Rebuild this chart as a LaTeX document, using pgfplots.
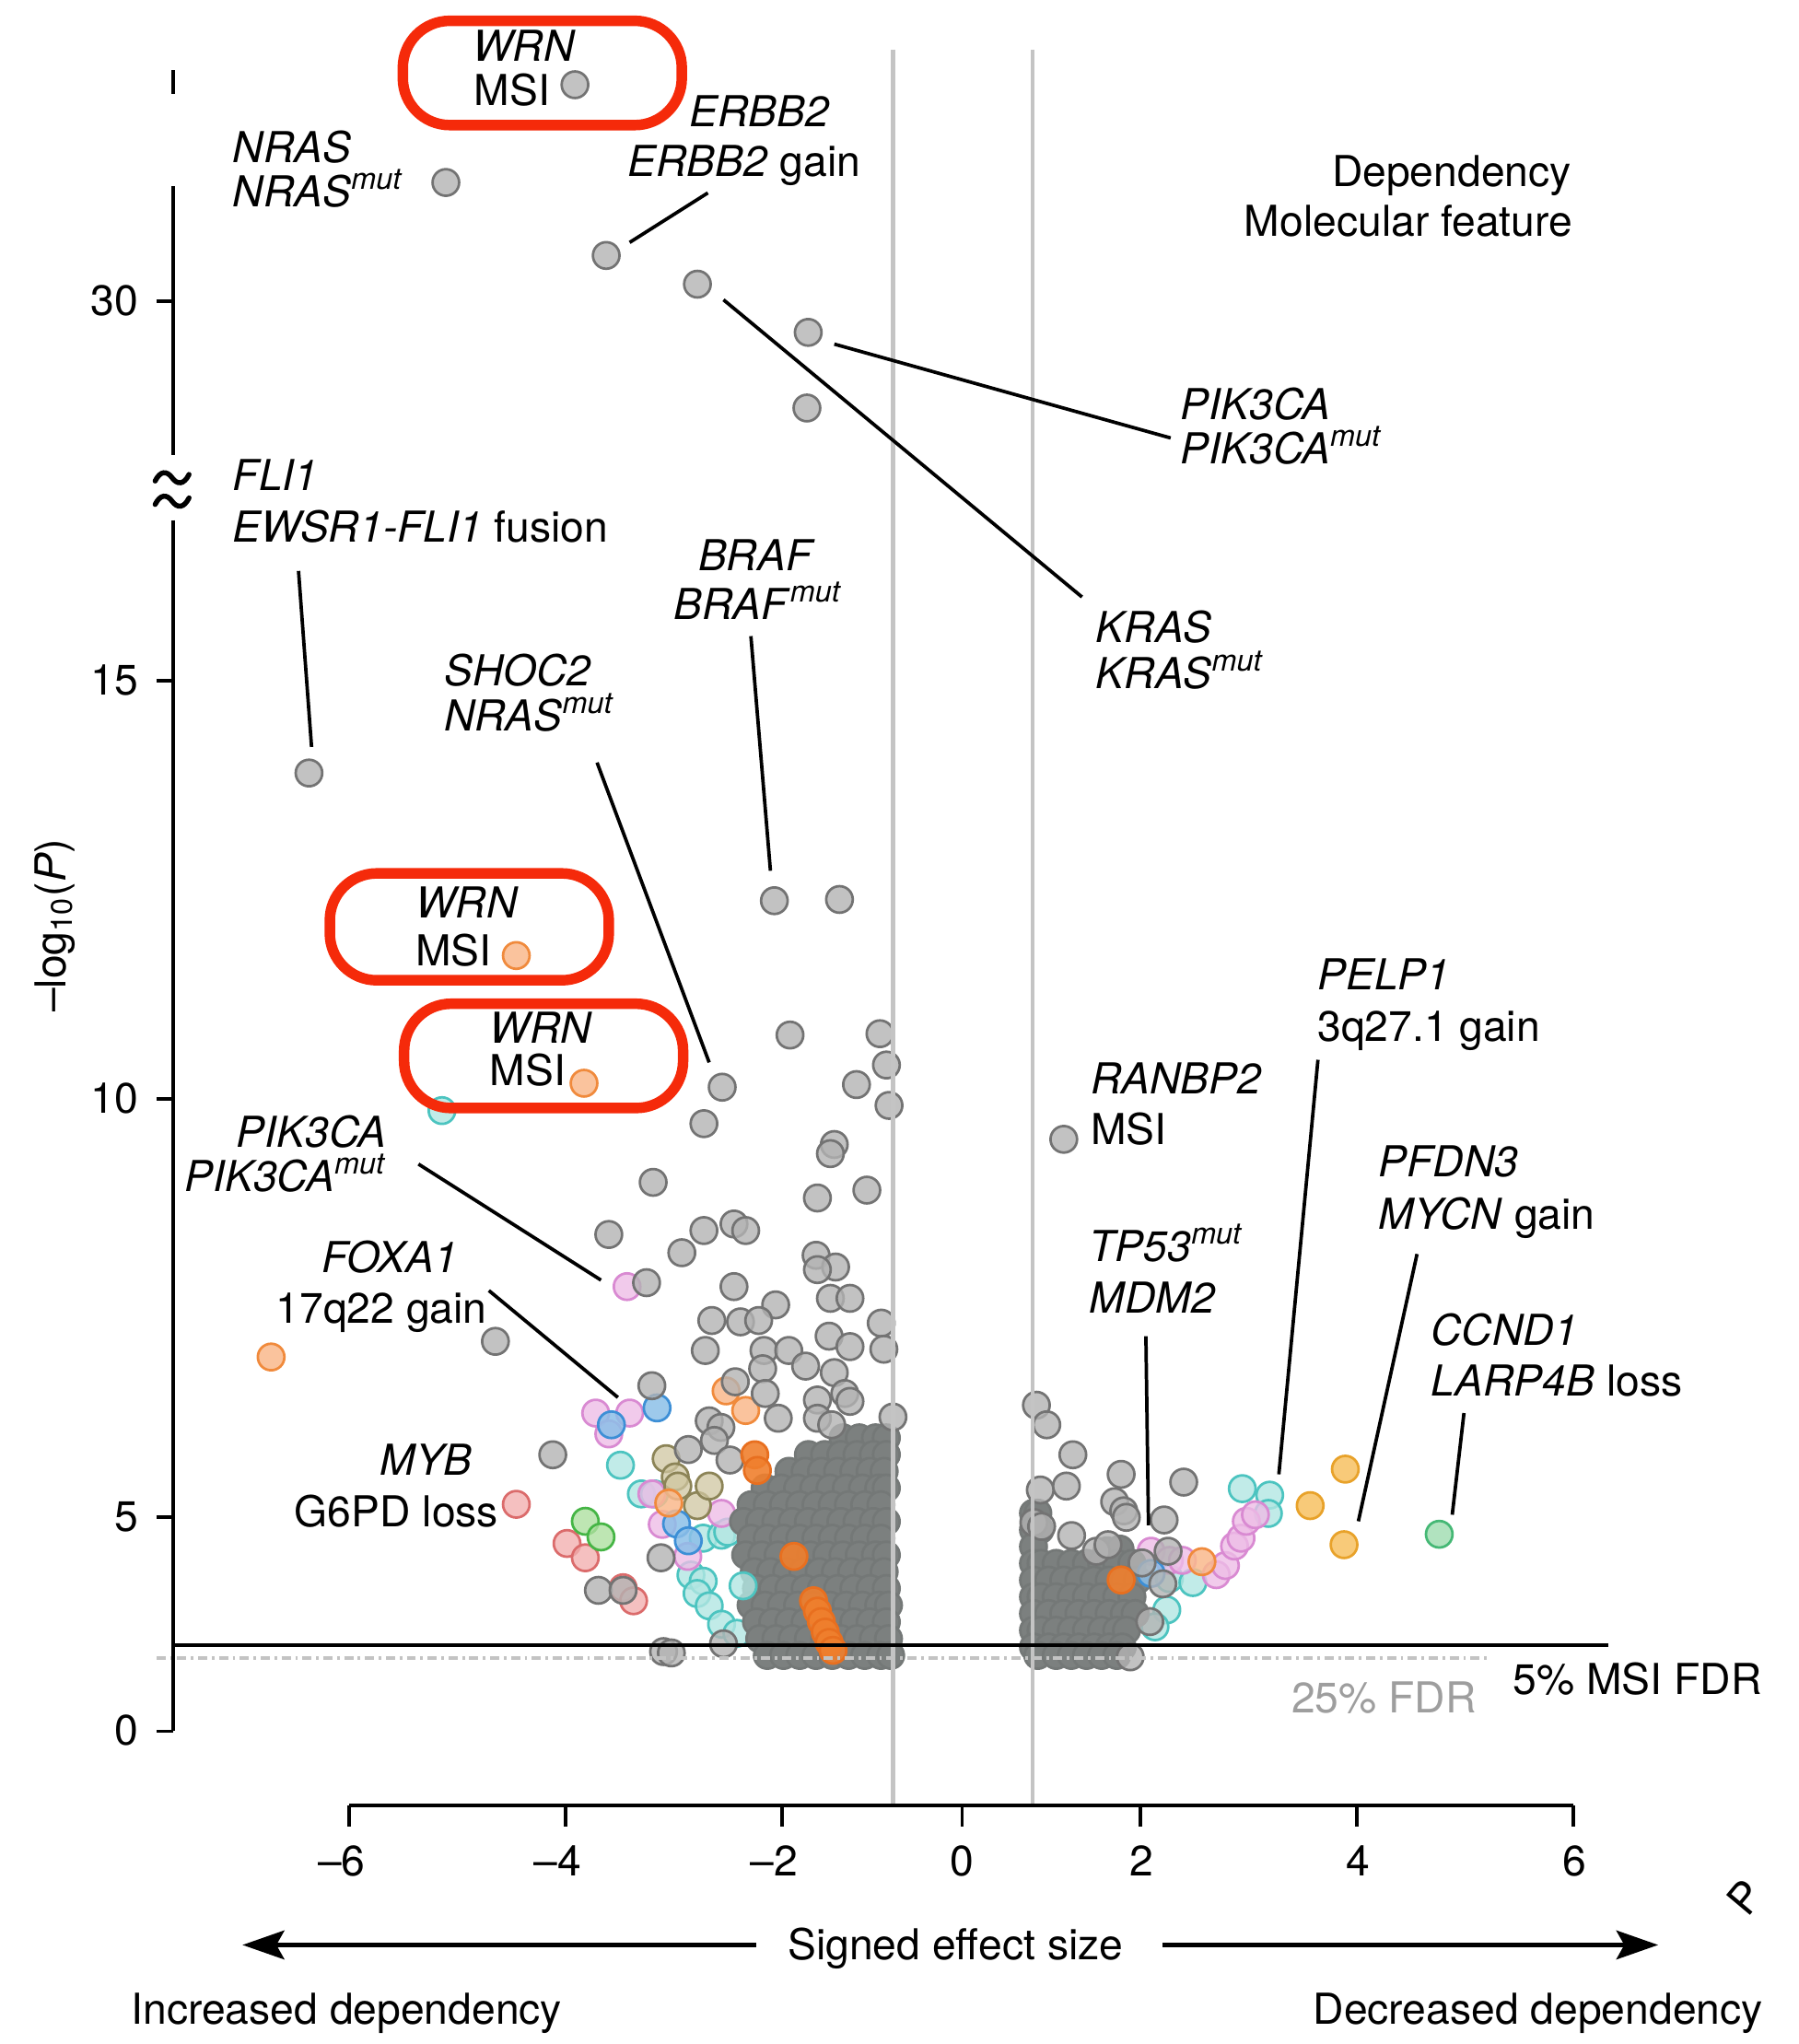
\documentclass[border=0pt]{standalone}
\usepackage{pgfplots}
\pgfplotsset{compat=1.18}
\usepackage{fontspec}
\setmainfont{TeX Gyre Heros}
\usetikzlibrary{arrows.meta}
\definecolor{gF}{HTML}{B3B3B3}\definecolor{gE}{HTML}{737373}
\definecolor{dF}{HTML}{7C807F}\definecolor{dE}{HTML}{747877}
\definecolor{oF}{HTML}{F9B98C}\definecolor{oE}{HTML}{F08A3C}
\definecolor{soF}{HTML}{F07F2D}\definecolor{soE}{HTML}{E86F1F}
\definecolor{pF}{HTML}{EDBDE6}\definecolor{pE}{HTML}{D98AD2}
\definecolor{bF}{HTML}{8CBFE8}\definecolor{bE}{HTML}{3D8FD6}
\definecolor{tF}{HTML}{B2E6E2}\definecolor{tE}{HTML}{4CC4C0}
\definecolor{olF}{HTML}{CFC6A0}\definecolor{olE}{HTML}{8C8457}
\definecolor{sF}{HTML}{F2B0B0}\definecolor{sE}{HTML}{DB6B6B}
\definecolor{grF}{HTML}{AEE0A0}\definecolor{grE}{HTML}{45B545}
\definecolor{yF}{HTML}{F7C46A}\definecolor{yE}{HTML}{E8A22A}
\definecolor{cF}{HTML}{A8E0B8}\definecolor{cE}{HTML}{45B875}
\definecolor{boxred}{HTML}{F52A0A}
\definecolor{vline}{HTML}{C4C4C4}
\definecolor{fdr}{HTML}{C3C3C3}
\pgfplotsset{
  pts/.style n args={3}{only marks, mark=*, mark size=2.9pt,
    mark options={draw=#1, fill=#2, line width=0.55pt, fill opacity=#3}},
}
\begin{document}
\begin{tikzpicture}
\useasboundingbox (0,0) rectangle (13.8cm,15.68cm);
\begin{axis}[at={(0,0)}, anchor=south west, scale only axis,
  width=13.8cm, height=15.68cm,
  xmin=-8.8916, xmax=7.7349, ymin=-1.2928, ymax=23.1308,
  hide axis, clip=false]
% colored (light) drawn under the cores
\addplot[pts={tE}{tF}{0.8}] coordinates {
(-4.807,9.860)(-3.157,5.623)(-2.964,5.280)(-2.843,5.280)
(-2.393,4.751)(-2.223,4.787)(-2.166,4.824)(-2.506,4.310)(-2.393,4.237)
(-2.449,4.090)(-2.337,3.943)(-2.223,3.723)(-2.081,3.614)
(2.590,5.343)(2.843,5.265)(2.831,5.047)(1.916,4.268)(2.133,4.221)(1.892,3.894)(1.783,3.692)
};
\addplot[pts={pE}{pF}{0.8}] coordinates {
(-3.096,7.757)(-3.386,6.246)(-3.072,6.246)(-3.265,5.997)(-2.867,5.280)
(-2.771,4.916)(-2.535,4.533)(-2.223,5.047)
(1.747,4.595)(1.916,4.486)(2.036,4.486)(2.349,4.315)(2.434,4.424)
(2.518,4.657)(2.578,4.751)(2.627,4.953)(2.711,5.031)
};
\addplot[pts={olE}{olF}{0.75}] coordinates {
(-2.735,5.701)(-2.651,5.483)(-2.627,5.374)(-2.446,5.140)(-2.337,5.374)
};
% dense cores
\addplot[pts={dE}{dF}{1}] coordinates {
(-1.10,5.95)(-0.95,5.95)(-0.80,5.95)(-0.70,5.95)
(-1.42,5.75)(-1.27,5.75)(-1.12,5.75)(-0.97,5.75)(-0.82,5.75)(-0.70,5.75)
(-1.60,5.55)(-1.45,5.55)(-1.30,5.55)(-1.15,5.55)(-1.00,5.55)(-0.85,5.55)(-0.72,5.55)
(-1.82,5.35)(-1.67,5.35)(-1.52,5.35)(-1.37,5.35)(-1.22,5.35)(-1.07,5.35)(-0.92,5.35)(-0.77,5.35)(-0.70,5.35)
(-1.95,5.15)(-1.80,5.15)(-1.65,5.15)(-1.50,5.15)(-1.35,5.15)(-1.20,5.15)(-1.05,5.15)(-0.90,5.15)(-0.75,5.15)
(-2.02,4.95)(-1.87,4.95)(-1.72,4.95)(-1.57,4.95)(-1.42,4.95)(-1.27,4.95)(-1.12,4.95)(-0.97,4.95)(-0.82,4.95)(-0.70,4.95)
(-1.95,4.75)(-1.80,4.75)(-1.65,4.75)(-1.50,4.75)(-1.35,4.75)(-1.20,4.75)(-1.05,4.75)(-0.90,4.75)(-0.75,4.75)
(-2.00,4.55)(-1.85,4.55)(-1.70,4.55)(-1.55,4.55)(-1.40,4.55)(-1.25,4.55)(-1.10,4.55)(-0.95,4.55)(-0.80,4.55)(-0.70,4.55)
(-1.92,4.35)(-1.77,4.35)(-1.62,4.35)(-1.47,4.35)(-1.32,4.35)(-1.17,4.35)(-1.02,4.35)(-0.87,4.35)(-0.72,4.35)
(-1.90,4.15)(-1.75,4.15)(-1.60,4.15)(-1.45,4.15)(-1.30,4.15)(-1.15,4.15)(-1.00,4.15)(-0.85,4.15)(-0.70,4.15)
(-1.95,3.95)(-1.82,3.95)(-1.67,3.95)(-1.52,3.95)(-1.37,3.95)(-1.22,3.95)(-1.07,3.95)(-0.92,3.95)(-0.77,3.95)(-0.68,3.95)
(-1.90,3.75)(-1.75,3.75)(-1.60,3.75)(-1.45,3.75)(-1.30,3.75)(-1.15,3.75)(-1.00,3.75)(-0.85,3.75)(-0.70,3.75)
(-1.87,3.55)(-1.72,3.55)(-1.57,3.55)(-1.42,3.55)(-1.27,3.55)(-1.12,3.55)(-0.97,3.55)(-0.82,3.55)(-0.68,3.55)
(-1.80,3.35)(-1.65,3.35)(-1.50,3.35)(-1.35,3.35)(-1.20,3.35)(-1.05,3.35)(-0.90,3.35)(-0.75,3.35)(-0.66,3.35)
(0.66,5.05)(0.70,5.05)
(0.66,4.85)(0.72,4.85)
(0.66,4.65)(1.34,4.60)(1.46,4.62)
(0.66,4.45)(0.73,4.45)(0.87,4.45)(1.01,4.45)(1.15,4.45)(1.29,4.45)(1.43,4.45)(1.57,4.45)
(0.66,4.25)(0.80,4.25)(0.94,4.25)(1.08,4.25)(1.22,4.25)(1.36,4.25)(1.50,4.25)(1.62,4.25)
(0.66,4.05)(0.73,4.05)(0.87,4.05)(1.01,4.05)(1.15,4.05)(1.29,4.05)(1.43,4.05)(1.57,4.05)
(0.66,3.85)(0.80,3.85)(0.94,3.85)(1.08,3.85)(1.22,3.85)(1.36,3.85)(1.50,3.85)(1.60,3.85)
(0.66,3.65)(0.73,3.65)(0.87,3.65)(1.01,3.65)(1.15,3.65)(1.29,3.65)(1.43,3.65)(1.52,3.65)
(0.66,3.45)(0.80,3.45)(0.94,3.45)(1.08,3.45)(1.22,3.45)(1.36,3.45)(1.48,3.45)
(0.70,3.35)(0.87,3.35)(1.01,3.35)(1.15,3.35)(1.29,3.35)(1.43,3.35)
};
\addplot[pts={tE}{tF}{0.8}] coordinates {(-2.024,4.182)};
\addplot[pts={bE}{bF}{0.85}] coordinates {
(-3.241,6.106)(-2.819,6.308)(-2.639,4.922)(-2.530,4.720)(1.747,4.330)
};
\addplot[pts={sE}{sF}{0.8}] coordinates {
(-4.120,5.156)(-3.651,4.688)(-3.482,4.517)(-3.133,4.159)(-3.036,4.003)
};
\addplot[pts={grE}{grF}{0.8}] coordinates {(-3.482,4.953)(-3.337,4.766)};
\addplot[pts={yE}{yF}{0.9}] coordinates {(3.542,5.576)(3.217,5.140)(3.530,4.673)};
\addplot[pts={cE}{cF}{0.9}] coordinates {(4.410,4.798)};
\addplot[pts={oE}{oF}{0.85}] coordinates {
(-4.120,11.713)(-3.494,10.187)(-6.386,6.916)(-2.181,6.511)(-2.000,6.277)(-2.711,5.171)
(2.217,4.470)
};
% isolated gray
\addplot[pts={gE}{gF}{0.8}] coordinates {
(-3.578,22.118)(-4.771,20.950)(-3.289,20.078)(-2.446,19.735)(-1.422,19.159)(-1.434,18.255)
(-6.036,13.894)(-1.735,12.368)(-1.133,12.383)(-1.590,10.763)(-0.759,10.779)(-0.699,10.405)
(-2.217,10.140)(-0.976,10.171)(-0.675,9.922)(0.940,9.517)(-2.386,9.704)(-1.181,9.455)
(-1.217,9.346)(-2.855,9.003)(-1.337,8.816)(-0.880,8.910)(-3.265,8.380)(-2.386,8.427)
(-2.108,8.505)(-2.000,8.427)(-2.590,8.162)(-1.349,8.131)(-1.169,7.991)(-1.337,7.960)
(-2.916,7.804)(-2.108,7.757)(-1.723,7.539)(-1.217,7.617)(-1.036,7.617)(-4.313,7.103)
(-2.313,7.352)(-2.048,7.336)(-1.880,7.352)(-0.747,7.321)(-1.229,7.165)(-1.036,7.040)
(-0.723,7.009)(-2.373,6.994)(-1.831,6.994)(-1.602,6.994)(-1.446,6.807)(-1.181,6.729)
(-1.843,6.776)(-2.096,6.620)(-1.819,6.480)(-1.337,6.402)(-1.084,6.480)(-1.036,6.386)
(-2.867,6.573)(-2.337,6.153)(-1.699,6.184)(-1.337,6.184)(-1.205,6.106)(-0.639,6.199)
(-3.783,5.748)(-2.530,5.810)(-2.229,6.075)(-2.289,5.919)(-2.145,5.685)(-2.783,4.517)
(-3.361,4.128)(-3.133,4.128)(-2.759,3.396)(-2.687,3.380)(-2.205,3.489)
(0.687,6.340)(0.783,6.106)(1.024,5.748)(0.723,5.327)(0.964,5.374)(1.470,5.514)
(2.048,5.421)(1.410,5.187)(1.494,5.078)(1.518,5.000)(1.867,4.969)(1.012,4.782)
(0.663,4.938)(0.735,4.891)(1.241,4.595)(1.349,4.673)(1.904,4.595)(1.663,4.455)
(1.855,4.206)(1.735,3.754)(1.554,3.333)
};
% solid orange
\addplot[pts={soE}{soF}{0.9}] coordinates {
(-1.916,5.748)(-1.892,5.561)(-1.554,4.533)
(-1.373,4.003)(-1.337,3.879)(-1.301,3.754)(-1.265,3.629)(-1.229,3.505)(-1.193,3.411)
(1.470,4.252)
};
\end{axis}
\begin{scope}[shift={(0cm,15.68cm)}, x=0.1mm, y=-0.1mm,
  every node/.append style={font=\fontsize{9.3}{11}\selectfont, inner sep=0pt}]
% reference lines
\draw[vline, line width=0.85pt] (685,38) -- (685,1385);
\draw[vline, line width=0.85pt] (792,38) -- (792,1385);
\draw[fdr, line width=0.8pt, dash pattern=on 0.7mm off 0.35mm on 0.2mm off 0.35mm] (120,1272) -- (1142,1272);
\draw[black, line width=0.75pt] (133,1262) -- (1234,1262);
% y axis
\draw[black, line width=0.75pt] (133,54) -- (133,72);
\draw[black, line width=0.75pt] (133,143) -- (133,349);
\draw[black, line width=0.75pt] (133,399) -- (133,1328);
\foreach \yy in {231,522,843,1164,1328} \draw[black, line width=0.75pt] (120,\yy) -- (133,\yy);
\foreach \dy in {0,18}
  \draw[black, line width=1.1pt, line cap=round, yshift=-\dy*0.1mm]
    (119,369) .. controls (123,361) and (128,361) .. (132,366.5)
    .. controls (136,372) and (141,372) .. (145,364);
\node[anchor=base east] at (107,242) {30};
\node[anchor=base east] at (107,533) {15};
\node[anchor=base east] at (107,854) {10};
\node[anchor=base east] at (107,1175) {5};
\node[anchor=base east] at (107,1339) {0};
\node[rotate=90] at (42,710) {–log\textsubscript{10}(\textit{P})};
% x axis
\draw[black, line width=0.75pt] (268,1385) -- (1207,1385);
\foreach \xx in {268,434,600,738,875,1041,1207} \draw[black, line width=0.75pt] (\xx,1385) -- (\xx,1401);
\node[anchor=base] at (262,1439) {–6};
\node[anchor=base] at (428,1439) {–4};
\node[anchor=base] at (594,1439) {–2};
\node[anchor=base] at (738,1439) {0};
\node[anchor=base] at (876,1439) {2};
\node[anchor=base] at (1042,1439) {4};
\node[anchor=base] at (1208,1439) {6};
\node[anchor=base] at (733,1503) {Signed effect size};
\draw[line width=1.1pt, -{Stealth[length=3.2mm,width=2.2mm,inset=0.6mm]}] (580,1492) -- (186,1492);
\draw[line width=1.1pt, -{Stealth[length=3.2mm,width=2.2mm,inset=0.6mm]}] (892,1492) -- (1272,1492);
\node[anchor=base west] at (100,1553) {Increased dependency};
\node[anchor=base east] at (1353,1553) {Decreased dependency};
\node[anchor=base west, rotate=50] at (1340,1472) {P};
% FDR labels
\node[anchor=base west] at (1160,1300) {5\% MSI FDR};
\node[anchor=base west, text=black!38] at (990,1314) {25\% FDR};
% legend
\node[anchor=base east] at (1206,143) {Dependency};
\node[anchor=base east] at (1207,181) {Molecular feature};
% leader lines
\begin{scope}[line width=0.75pt]
\draw (483,186) -- (543,148);
\draw (555,230) -- (830,458);
\draw (640,264) -- (898,336);
\draw (229,438) -- (239,573);
\draw (576,488) -- (591,668);
\draw (458,585) -- (544,815);
\draw (321,893) -- (461,982);
\draw (375,990) -- (474,1072);
\draw (879,1025) -- (881,1170);
\draw (1011,813) -- (981,1131);
\draw (1087,962) -- (1042,1167);
\draw (1123,1084) -- (1114,1162);
\end{scope}
% labels
\node[anchor=base west] at (362,47) {\textit{WRN}};
\node[anchor=base west] at (363,81) {MSI};
\node[anchor=base west] at (528,97) {\textit{ERBB2}};
\node[anchor=base west] at (481,135) {\textit{ERBB2} gain};
\node[anchor=base west] at (178,125) {\textit{NRAS}};
\node[anchor=base west] at (178,159) {\textit{NRAS}\textsuperscript{\textit{mut}}};
\node[anchor=base west] at (905,322) {\textit{PIK3CA}};
\node[anchor=base west] at (905,356) {\textit{PIK3CA}\textsuperscript{\textit{mut}}};
\node[anchor=base west] at (178,376) {\textit{FLI1}};
\node[anchor=base west] at (178,416) {\textit{EWSR1-FLI1} fusion};
\node[anchor=base west] at (535,438) {\textit{BRAF}};
\node[anchor=base west] at (516,475) {\textit{BRAF}\textsuperscript{\textit{mut}}};
\node[anchor=base west] at (840,493) {\textit{KRAS}};
\node[anchor=base west] at (840,528) {\textit{KRAS}\textsuperscript{\textit{mut}}};
\node[anchor=base west] at (340,526) {\textit{SHOC2}};
\node[anchor=base west] at (340,561) {\textit{NRAS}\textsuperscript{\textit{mut}}};
\node[anchor=base west] at (318,704) {\textit{WRN}};
\node[anchor=base west] at (318,741) {MSI};
\node[anchor=base west] at (375,800) {\textit{WRN}};
\node[anchor=base west] at (375,833) {MSI};
\node[anchor=base west] at (1010,759) {\textit{PELP1}};
\node[anchor=base west] at (1010,799) {3q27.1 gain};
\node[anchor=base west] at (836,839) {\textit{RANBP2}};
\node[anchor=base west] at (836,878) {MSI};
\node[anchor=base east] at (297,880) {\textit{PIK3CA}};
\node[anchor=base east] at (298,914) {\textit{PIK3CA}\textsuperscript{\textit{mut}}};
\node[anchor=base west] at (1057,903) {\textit{PFDN3}};
\node[anchor=base west] at (1057,943) {\textit{MYCN} gain};
\node[anchor=base west] at (835,968) {\textit{TP53}\textsuperscript{\textit{mut}}};
\node[anchor=base west] at (835,1007) {\textit{MDM2}};
\node[anchor=base east] at (352,976) {\textit{FOXA1}};
\node[anchor=base east] at (374,1015) {17q22 gain};
\node[anchor=base west] at (1097,1032) {\textit{CCND1}};
\node[anchor=base west] at (1097,1071) {\textit{LARP4B} loss};
\node[anchor=base east] at (363,1132) {\textit{MYB}};
\node[anchor=base east] at (383,1171) {G6PD loss};
% red highlight boxes
\begin{scope}[draw=boxred, line width=2.3pt, rounded corners=3.6mm]
\draw (309,16) rectangle (523,96);
\draw (253,670) rectangle (467,752);
\draw (310,770) rectangle (524,850);
\end{scope}
\end{scope}
\end{tikzpicture}
\end{document}
